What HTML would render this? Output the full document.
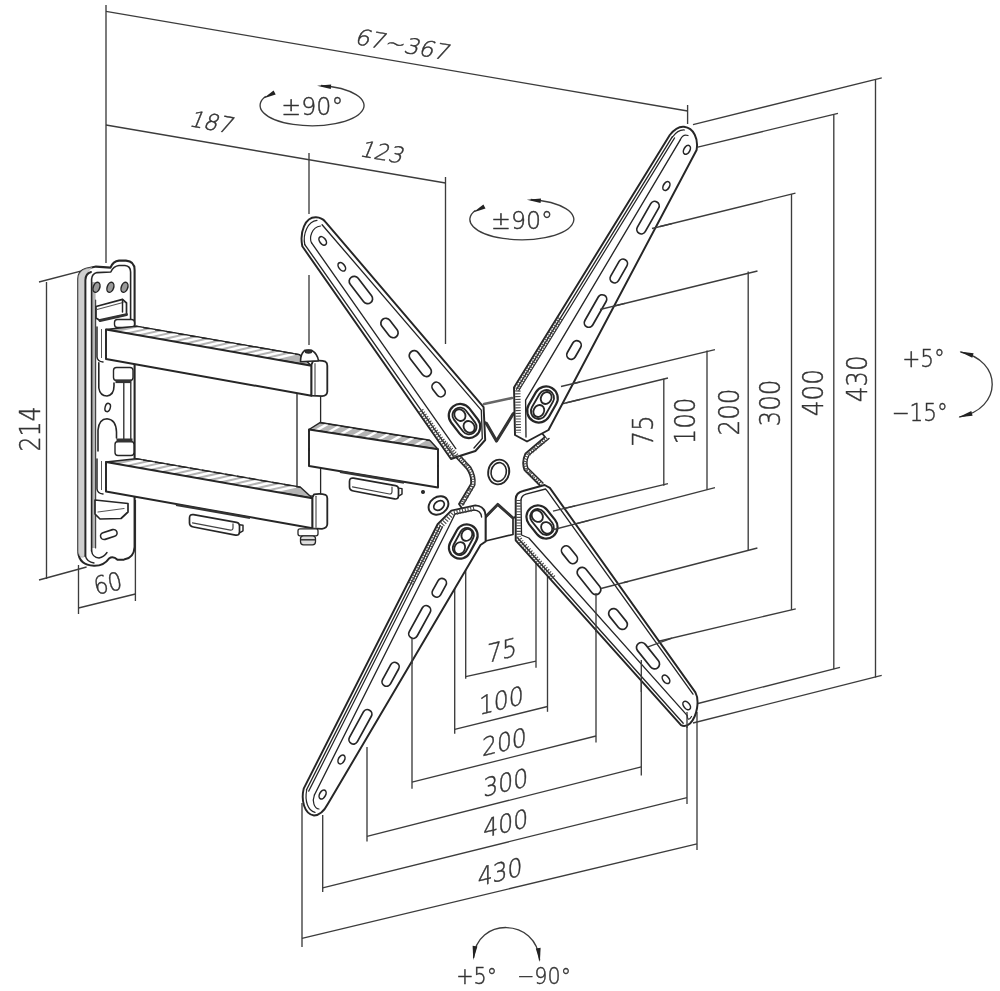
<!DOCTYPE html>
<html><head><meta charset="utf-8"><title>TV wall mount dimensions</title>
<style>
html,body{margin:0;padding:0;background:#fff;}
svg{display:block;filter:blur(0.45px);}
text{font-family:"DejaVu Sans","Liberation Sans",sans-serif;font-weight:200;}
</style></head><body>
<svg width="1000" height="991" viewBox="0 0 1000 991">
<rect width="1000" height="991" fill="#fff"/>
<g id="dims">
<line x1="106.0" y1="5.0" x2="106.0" y2="263.0" stroke="#3c3c3c" stroke-width="1.35" />
<line x1="106.0" y1="11.4" x2="687.6" y2="111.0" stroke="#3c3c3c" stroke-width="1.35" />
<line x1="106.0" y1="125.0" x2="445.5" y2="183.0" stroke="#3c3c3c" stroke-width="1.35" />
<line x1="309.0" y1="153.0" x2="309.0" y2="214.0" stroke="#3c3c3c" stroke-width="1.35" />
<line x1="309.0" y1="275.0" x2="309.0" y2="345.0" stroke="#3c3c3c" stroke-width="1.35" />
<line x1="445.5" y1="177.0" x2="445.5" y2="344.0" stroke="#3c3c3c" stroke-width="1.35" />
<line x1="687.6" y1="105.0" x2="687.6" y2="124.0" stroke="#3c3c3c" stroke-width="1.35" />
<line x1="46.5" y1="282.0" x2="46.5" y2="579.0" stroke="#3c3c3c" stroke-width="1.35" />
<line x1="39.0" y1="282.0" x2="98.0" y2="266.7" stroke="#3c3c3c" stroke-width="1.35" />
<line x1="39.0" y1="580.0" x2="86.6" y2="567.0" stroke="#3c3c3c" stroke-width="1.35" />
<line x1="78.5" y1="565.0" x2="78.5" y2="614.0" stroke="#3c3c3c" stroke-width="1.35" />
<line x1="135.4" y1="500.0" x2="135.4" y2="601.0" stroke="#3c3c3c" stroke-width="1.35" />
<line x1="78.5" y1="608.0" x2="135.4" y2="594.0" stroke="#3c3c3c" stroke-width="1.35" />
<line x1="663.8" y1="378.7" x2="663.8" y2="485.7" stroke="#3c3c3c" stroke-width="1.35" />
<line x1="707.0" y1="350.5" x2="707.0" y2="489.7" stroke="#3c3c3c" stroke-width="1.35" />
<line x1="748.2" y1="271.5" x2="748.2" y2="550.0" stroke="#3c3c3c" stroke-width="1.35" />
<line x1="791.5" y1="194.0" x2="791.5" y2="610.0" stroke="#3c3c3c" stroke-width="1.35" />
<line x1="833.8" y1="115.0" x2="833.8" y2="669.3" stroke="#3c3c3c" stroke-width="1.35" />
<line x1="875.5" y1="79.4" x2="875.5" y2="677.4" stroke="#3c3c3c" stroke-width="1.35" />
<line x1="693.0" y1="124.6" x2="881.8" y2="77.8" stroke="#3c3c3c" stroke-width="1.35" />
<line x1="697.8" y1="147.2" x2="838.0" y2="113.3" stroke="#3c3c3c" stroke-width="1.35" />
<line x1="660.0" y1="226.5" x2="795.5" y2="193.2" stroke="#3c3c3c" stroke-width="1.35" />
<line x1="600.0" y1="309.5" x2="757.5" y2="271.0" stroke="#3c3c3c" stroke-width="1.35" />
<line x1="536.0" y1="392.5" x2="715.0" y2="349.6" stroke="#3c3c3c" stroke-width="1.35" />
<line x1="545.0" y1="408.0" x2="668.0" y2="378.0" stroke="#3c3c3c" stroke-width="1.35" />
<line x1="560.0" y1="509.5" x2="668.0" y2="483.7" stroke="#3c3c3c" stroke-width="1.35" />
<line x1="552.0" y1="530.0" x2="715.0" y2="487.7" stroke="#3c3c3c" stroke-width="1.35" />
<line x1="624.0" y1="582.5" x2="757.4" y2="548.0" stroke="#3c3c3c" stroke-width="1.35" />
<line x1="647.0" y1="644.0" x2="795.8" y2="608.8" stroke="#3c3c3c" stroke-width="1.35" />
<line x1="698.0" y1="703.5" x2="840.0" y2="667.3" stroke="#3c3c3c" stroke-width="1.35" />
<line x1="693.0" y1="723.0" x2="881.7" y2="675.4" stroke="#3c3c3c" stroke-width="1.35" />
<line x1="302.0" y1="803.0" x2="302.0" y2="947.0" stroke="#3c3c3c" stroke-width="1.35" />
<line x1="697.0" y1="712.0" x2="697.0" y2="850.0" stroke="#3c3c3c" stroke-width="1.35" />
<line x1="302.0" y1="938.4" x2="697.0" y2="843.8" stroke="#3c3c3c" stroke-width="1.35" />
<line x1="322.7" y1="815.0" x2="322.7" y2="892.0" stroke="#3c3c3c" stroke-width="1.35" />
<line x1="687.0" y1="720.0" x2="687.0" y2="804.0" stroke="#3c3c3c" stroke-width="1.35" />
<line x1="322.7" y1="887.8" x2="687.0" y2="797.6" stroke="#3c3c3c" stroke-width="1.35" />
<line x1="367.0" y1="747.0" x2="367.0" y2="841.6" stroke="#3c3c3c" stroke-width="1.35" />
<line x1="641.3" y1="660.0" x2="641.3" y2="775.6" stroke="#3c3c3c" stroke-width="1.35" />
<line x1="367.0" y1="836.3" x2="641.3" y2="766.8" stroke="#3c3c3c" stroke-width="1.35" />
<line x1="412.0" y1="639.0" x2="412.0" y2="788.8" stroke="#3c3c3c" stroke-width="1.35" />
<line x1="596.0" y1="593.0" x2="596.0" y2="742.6" stroke="#3c3c3c" stroke-width="1.35" />
<line x1="412.0" y1="782.2" x2="596.0" y2="736.0" stroke="#3c3c3c" stroke-width="1.35" />
<line x1="454.7" y1="560.0" x2="454.7" y2="733.8" stroke="#3c3c3c" stroke-width="1.35" />
<line x1="547.5" y1="545.0" x2="547.5" y2="711.8" stroke="#3c3c3c" stroke-width="1.35" />
<line x1="454.7" y1="729.4" x2="547.5" y2="706.5" stroke="#3c3c3c" stroke-width="1.35" />
<line x1="465.7" y1="545.0" x2="465.7" y2="678.8" stroke="#3c3c3c" stroke-width="1.35" />
<line x1="536.0" y1="535.0" x2="536.0" y2="667.8" stroke="#3c3c3c" stroke-width="1.35" />
<line x1="465.7" y1="676.6" x2="536.0" y2="661.2" stroke="#3c3c3c" stroke-width="1.35" />
</g>
<path d="M321.0,85.5 A52,20.3 0 1 1 265.7,96.3" stroke="#3c3c3c" stroke-width="1.35" fill="none"/>
<path d="M317.0,85.8 L331.2,84.5 L330.8,89.1 Z" fill="#222"/>
<path d="M263.2,98.5 L273.6,90.4 L275.7,94.4 Z" fill="#222"/>
<path d="M530.8,199.5 A52,20.3 0 1 1 475.5,210.3" stroke="#3c3c3c" stroke-width="1.35" fill="none"/>
<path d="M526.8,199.8 L541.0,198.5 L540.6,203.1 Z" fill="#222"/>
<path d="M473.0,212.5 L483.4,204.4 L485.5,208.4 Z" fill="#222"/>
<path d="M960.4,352 C1003,360 1003,409 959.3,417" stroke="#3c3c3c" stroke-width="1.35" fill="none"/>
<path d="M959.5,351.6 L973.6,353.2 L972.3,357.8 Z" fill="#222"/>
<path d="M958.5,417.3 L971.3,411.1 L972.6,415.7 Z" fill="#222"/>
<path d="M473.6,958 C476,917 537,917 539.6,960.4" stroke="#3c3c3c" stroke-width="1.35" fill="none"/>
<path d="M473.3,960.0 L472.6,945.8 L477.4,946.4 Z" fill="#222"/>
<path d="M539.9,962.0 L535.8,948.4 L540.6,947.8 Z" fill="#222"/>
<g id="labels">
<text transform="translate(403.5 44.5) rotate(10) skewX(-12) scale(1.07 1)" x="0" y="8.0" font-size="22" text-anchor="middle" fill="#333" stroke="#333" stroke-width="0.45">67~367</text>
<text transform="translate(212.5 122.0) rotate(10) skewX(-12) scale(1.0 1)" x="0" y="8.2" font-size="22.5" text-anchor="middle" fill="#333" stroke="#333" stroke-width="0.45">187</text>
<text transform="translate(383.0 152.0) rotate(10) skewX(-12) scale(1.0 1)" x="0" y="8.2" font-size="22.5" text-anchor="middle" fill="#333" stroke="#333" stroke-width="0.45">123</text>
<text transform="translate(30.0 429.0) rotate(-90) scale(0.83 1)" x="0" y="10.4" font-size="28.5" text-anchor="middle" fill="#333" stroke="#333" stroke-width="0.45">214</text>
<text transform="translate(107.8 583.0) rotate(-13) scale(0.9 1)" x="0" y="9.1" font-size="25" text-anchor="middle" fill="#333" stroke="#333" stroke-width="0.45">60</text>
<text transform="translate(312.3 106.0) rotate(0) scale(0.95 1)" x="0" y="9.1" font-size="25" text-anchor="middle" fill="#333" stroke="#333" stroke-width="0.45">±90°</text>
<text transform="translate(522.0 220.0) rotate(0) scale(0.95 1)" x="0" y="9.1" font-size="25" text-anchor="middle" fill="#333" stroke="#333" stroke-width="0.45">±90°</text>
<text transform="translate(642.4 431.0) rotate(-90) scale(0.865 1)" x="0" y="10.4" font-size="28.5" text-anchor="middle" fill="#333" stroke="#333" stroke-width="0.45">75</text>
<text transform="translate(684.8 421.0) rotate(-90) scale(0.865 1)" x="0" y="10.4" font-size="28.5" text-anchor="middle" fill="#333" stroke="#333" stroke-width="0.45">100</text>
<text transform="translate(728.4 412.0) rotate(-90) scale(0.865 1)" x="0" y="10.4" font-size="28.5" text-anchor="middle" fill="#333" stroke="#333" stroke-width="0.45">200</text>
<text transform="translate(769.5 403.0) rotate(-90) scale(0.865 1)" x="0" y="10.4" font-size="28.5" text-anchor="middle" fill="#333" stroke="#333" stroke-width="0.45">300</text>
<text transform="translate(812.3 392.7) rotate(-90) scale(0.865 1)" x="0" y="10.4" font-size="28.5" text-anchor="middle" fill="#333" stroke="#333" stroke-width="0.45">400</text>
<text transform="translate(856.3 378.8) rotate(-90) scale(0.865 1)" x="0" y="10.4" font-size="28.5" text-anchor="middle" fill="#333" stroke="#333" stroke-width="0.45">430</text>
<text transform="translate(502.0 650.0) skewY(-14) scale(0.92 1)" x="0" y="9.3" font-size="25.5" text-anchor="middle" fill="#333" stroke="#333" stroke-width="0.45">75</text>
<text transform="translate(501.3 700.0) skewY(-14) scale(0.92 1)" x="0" y="9.3" font-size="25.5" text-anchor="middle" fill="#333" stroke="#333" stroke-width="0.45">100</text>
<text transform="translate(504.4 741.7) skewY(-14) scale(0.92 1)" x="0" y="9.3" font-size="25.5" text-anchor="middle" fill="#333" stroke="#333" stroke-width="0.45">200</text>
<text transform="translate(505.7 782.2) skewY(-14) scale(0.92 1)" x="0" y="9.3" font-size="25.5" text-anchor="middle" fill="#333" stroke="#333" stroke-width="0.45">300</text>
<text transform="translate(505.7 823.0) skewY(-14) scale(0.92 1)" x="0" y="9.3" font-size="25.5" text-anchor="middle" fill="#333" stroke="#333" stroke-width="0.45">400</text>
<text transform="translate(500.0 871.5) skewY(-14) scale(0.92 1)" x="0" y="9.3" font-size="25.5" text-anchor="middle" fill="#333" stroke="#333" stroke-width="0.45">430</text>
<text transform="translate(923.5 358.6) rotate(0) scale(0.9 1)" x="0" y="8.8" font-size="24" text-anchor="middle" fill="#333" stroke="#333" stroke-width="0.45">+5°</text>
<text transform="translate(919.7 411.8) rotate(0) scale(0.9 1)" x="0" y="8.8" font-size="24" text-anchor="middle" fill="#333" stroke="#333" stroke-width="0.45">−15°</text>
<text transform="translate(476.7 975.8) rotate(0) scale(0.9 1)" x="0" y="8.4" font-size="23" text-anchor="middle" fill="#333" stroke="#333" stroke-width="0.45">+5°</text>
<text transform="translate(544.0 975.8) rotate(0) scale(0.9 1)" x="0" y="8.4" font-size="23" text-anchor="middle" fill="#333" stroke="#333" stroke-width="0.45">−90°</text>
</g>
<g id="mount">
<path d="M78.2,552 L78.2,279 Q78.4,271 86,268.8 L96,266.6 L110.5,267.6 Q113,261.2 119,260.6 L126,260.6 Q134.6,261.2 134.6,270 L134.6,547 Q134,558 124,559.6 L117.5,559.8 Q113,555.5 109,558.5 Q104,566 94,565.8 Q79,565 78.2,552 Z" stroke="#262626" stroke-width="2.074" fill="#fff" stroke-linejoin="round" stroke-linecap="round" />
<path d="M78.2,552 L78.2,279 Q78.4,271 86,268.8 L92,267.6 Q85.8,272 85.4,280 L85.4,556 Q80,560 78.2,552 Z" stroke="#999" stroke-width="0.61" fill="#cfcfcf" stroke-linejoin="round" stroke-linecap="round" />
<path d="M85.4,556 L85.4,280 Q85.6,273.5 91,272" stroke="#262626" stroke-width="1.952" fill="none" stroke-linejoin="round" stroke-linecap="round" />
<rect x="91.6" y="282" width="4" height="266" fill="#b5b5b5"/>
<path d="M85.4,556 Q87,562 94,563" stroke="#262626" stroke-width="1.342" fill="none" stroke-linejoin="round" stroke-linecap="round" />
<path d="M91.6,551 L91.6,279 Q92,274 97,272.6 L110.8,272 Q113.5,266 119,265.5 L125,265.5 Q130.6,266 130.6,272 L130.6,322" stroke="#262626" stroke-width="1.586" fill="none" stroke-linejoin="round" stroke-linecap="round" />
<path d="M91.6,551 Q92.5,557.5 99,558 Q104,557 107,552.5" stroke="#262626" stroke-width="1.464" fill="none" stroke-linejoin="round" stroke-linecap="round" />
<path d="M95.6,300 L95.6,548" stroke="#444" stroke-width="1.22" fill="none" stroke-linejoin="round" stroke-linecap="round" />
<ellipse cx="96.5" cy="287.3" rx="3.2" ry="5.2" transform="rotate(20.0 96.5 287.3)" stroke="#262626" stroke-width="1.464" fill="#9a9a9a"/>
<ellipse cx="110.4" cy="287.3" rx="3.2" ry="5.2" transform="rotate(20.0 110.4 287.3)" stroke="#262626" stroke-width="1.464" fill="#9a9a9a"/>
<ellipse cx="124.5" cy="287.3" rx="3.2" ry="5.2" transform="rotate(20.0 124.5 287.3)" stroke="#262626" stroke-width="1.464" fill="#9a9a9a"/>
<path d="M96.0,306.5 L122.5,299.4 L126.5,303.0 L126.5,314.6 L100.0,320.5 L96.0,318.0 Z" stroke="#262626" stroke-width="1.708" fill="#fff" stroke-linejoin="round" stroke-linecap="round" />
<path d="M97,309.5 L123,302.5" stroke="#555" stroke-width="1.22" fill="none" stroke-linejoin="round" stroke-linecap="round" />
<path d="M122.5,299.4 L122.5,312" stroke="#262626" stroke-width="1.464" fill="none" stroke-linejoin="round" stroke-linecap="round" />
<path d="M100,320.5 L126.5,314.6" stroke="#333" stroke-width="2.928" fill="none" stroke-linejoin="round" stroke-linecap="round" />
<path d="M95.0,500.0 L128.0,503.5 L128.0,512.0 L121.0,518.5 L100.0,519.0 L95.0,514.0 Z" stroke="#262626" stroke-width="1.708" fill="#fff" stroke-linejoin="round" stroke-linecap="round" />
<path d="M98,512 L124,508.5" stroke="#555" stroke-width="1.22" fill="none" stroke-linejoin="round" stroke-linecap="round" />
<rect x="100.3" y="531.0" width="17.0" height="7.0" rx="3.5" transform="rotate(-18.0 108.8 534.5)" stroke="#262626" stroke-width="1.586" fill="#fff"/>
<path d="M98.8,362.8 L98.8,388 Q100,396 107,396 Q114,395 114,386 L114,383" stroke="#262626" stroke-width="1.586" fill="none" stroke-linejoin="round" stroke-linecap="round" />
<ellipse cx="107.7" cy="407.5" rx="2.6" ry="4.2" transform="rotate(15.0 107.7 407.5)" stroke="#262626" stroke-width="1.464" fill="none"/>
<path d="M98,451 L98,430 Q99,419 107,418.8 Q116,419.5 116.5,432 L116.5,438" stroke="#262626" stroke-width="1.586" fill="none" stroke-linejoin="round" stroke-linecap="round" />
<line x1="123.8" y1="383.0" x2="123.8" y2="439.0" stroke="#262626" stroke-width="1.3" />
<line x1="130.8" y1="383.0" x2="130.8" y2="439.0" stroke="#262626" stroke-width="1.3" />
<rect x="113.5" y="367.5" width="19.5" height="13" rx="3" fill="#fff" stroke="#262626" stroke-width="1.4"/>
<rect x="115.5" y="379.5" width="16" height="3.6" fill="#333"/>
<rect x="115" y="441.5" width="19" height="14" rx="3" fill="#fff" stroke="#262626" stroke-width="1.4"/>
<rect x="116.5" y="438.5" width="16" height="3.8" fill="#333"/>
<rect x="114.5" y="319.5" width="20" height="8" rx="3" fill="#fff" stroke="#262626" stroke-width="1.4"/>
<path d="M97,327 L97,357 Q97.5,361.5 103,362" stroke="#262626" stroke-width="1.464" fill="none" stroke-linejoin="round" stroke-linecap="round" />
<line x1="101.5" y1="329.0" x2="101.5" y2="358.0" stroke="#555" stroke-width="1.0" />
<path d="M97,459 L97,489 Q97.5,493.5 103,494" stroke="#262626" stroke-width="1.464" fill="none" stroke-linejoin="round" stroke-linecap="round" />
<line x1="101.5" y1="461.0" x2="101.5" y2="490.0" stroke="#555" stroke-width="1.0" />
<rect x="297" y="392" width="23.6" height="104" fill="#fff" stroke="#262626" stroke-width="1.3"/>
<path d="M106.0,329.5 L136.0,326.2 L299.5,354.6 L311.5,365.7 Z" stroke="#262626" stroke-width="1.464" fill="#b4b4b4" stroke-linejoin="round" stroke-linecap="round" />
<line x1="143.1" y1="327.4" x2="116.1" y2="333.6" stroke="#fff" stroke-width="2.6" />
<line x1="154.8" y1="329.4" x2="127.8" y2="335.6" stroke="#fff" stroke-width="2.6" />
<line x1="166.4" y1="331.4" x2="139.4" y2="337.6" stroke="#fff" stroke-width="2.6" />
<line x1="178.1" y1="333.5" x2="151.1" y2="339.6" stroke="#fff" stroke-width="2.6" />
<line x1="189.8" y1="335.5" x2="162.8" y2="341.7" stroke="#fff" stroke-width="2.6" />
<line x1="201.5" y1="337.5" x2="174.5" y2="343.7" stroke="#fff" stroke-width="2.6" />
<line x1="213.2" y1="339.6" x2="186.2" y2="345.7" stroke="#fff" stroke-width="2.6" />
<line x1="224.8" y1="341.6" x2="197.8" y2="347.8" stroke="#fff" stroke-width="2.6" />
<line x1="236.5" y1="343.6" x2="209.5" y2="349.8" stroke="#fff" stroke-width="2.6" />
<line x1="248.2" y1="345.6" x2="221.2" y2="351.8" stroke="#fff" stroke-width="2.6" />
<line x1="259.9" y1="347.7" x2="232.9" y2="353.8" stroke="#fff" stroke-width="2.6" />
<line x1="271.6" y1="349.7" x2="244.6" y2="355.9" stroke="#fff" stroke-width="2.6" />
<line x1="283.2" y1="351.7" x2="256.2" y2="357.9" stroke="#fff" stroke-width="2.6" />
<line x1="294.9" y1="353.7" x2="267.9" y2="359.9" stroke="#fff" stroke-width="2.6" />
<line x1="136.0" y1="326.2" x2="299.5" y2="354.6" stroke="#262626" stroke-width="1.3" />
<path d="M106.0,329.5 L311.5,365.7 L311.5,395.7 L106.0,359.0 Z" stroke="#262626" stroke-width="1.952" fill="#fff" stroke-linejoin="round" stroke-linecap="round" />
<path d="M311.5,364.7 L313,361.2 Q321,359.7 325.5,361.7 Q327.3,362.7 327.3,365.7 L327.3,391.7 Q327,395.7 322,396.2 L311.5,395.7 Z" stroke="#262626" stroke-width="1.83" fill="#fff" stroke-linejoin="round" stroke-linecap="round" />
<path d="M315,363.7 L315,394.7" stroke="#555" stroke-width="1.22" fill="none" stroke-linejoin="round" stroke-linecap="round" />
<path d="M300.5,361.7 Q300.5,353.7 305,350.2 L311.5,350.2 Q317.5,353.7 318.5,360.7 Z" stroke="#262626" stroke-width="1.586" fill="#fff" stroke-linejoin="round" stroke-linecap="round" />
<ellipse cx="308.5" cy="351.5" rx="3.2" ry="1.6" transform="rotate(0.0 308.5 351.5)" stroke="#262626" stroke-width="1.22" fill="#333"/>
<path d="M106.0,462.0 L136.0,458.7 L300.5,487.2 L312.5,498.3 Z" stroke="#262626" stroke-width="1.464" fill="#b4b4b4" stroke-linejoin="round" stroke-linecap="round" />
<line x1="143.1" y1="459.9" x2="116.1" y2="466.1" stroke="#fff" stroke-width="2.6" />
<line x1="154.9" y1="461.9" x2="127.9" y2="468.1" stroke="#fff" stroke-width="2.6" />
<line x1="166.6" y1="464.0" x2="139.6" y2="470.1" stroke="#fff" stroke-width="2.6" />
<line x1="178.4" y1="466.0" x2="151.4" y2="472.2" stroke="#fff" stroke-width="2.6" />
<line x1="190.1" y1="468.1" x2="163.1" y2="474.2" stroke="#fff" stroke-width="2.6" />
<line x1="201.9" y1="470.1" x2="174.9" y2="476.3" stroke="#fff" stroke-width="2.6" />
<line x1="213.6" y1="472.1" x2="186.6" y2="478.3" stroke="#fff" stroke-width="2.6" />
<line x1="225.4" y1="474.2" x2="198.4" y2="480.3" stroke="#fff" stroke-width="2.6" />
<line x1="237.1" y1="476.2" x2="210.1" y2="482.4" stroke="#fff" stroke-width="2.6" />
<line x1="248.9" y1="478.2" x2="221.9" y2="484.4" stroke="#fff" stroke-width="2.6" />
<line x1="260.6" y1="480.3" x2="233.6" y2="486.5" stroke="#fff" stroke-width="2.6" />
<line x1="272.4" y1="482.3" x2="245.4" y2="488.5" stroke="#fff" stroke-width="2.6" />
<line x1="284.1" y1="484.4" x2="257.1" y2="490.5" stroke="#fff" stroke-width="2.6" />
<line x1="295.9" y1="486.4" x2="268.9" y2="492.6" stroke="#fff" stroke-width="2.6" />
<line x1="136.0" y1="458.7" x2="300.5" y2="487.2" stroke="#262626" stroke-width="1.3" />
<path d="M106.0,462.0 L312.5,498.3 L312.5,528.3 L106.0,491.5 Z" stroke="#262626" stroke-width="1.952" fill="#fff" stroke-linejoin="round" stroke-linecap="round" />
<path d="M312.5,497.3 L314,494.3 Q321,493.3 325.5,494.8 Q327.3,495.8 327.3,498.3 L327.3,524.3 Q327,528.3 322,528.8 L312.5,528.3 Z" stroke="#262626" stroke-width="1.83" fill="#fff" stroke-linejoin="round" stroke-linecap="round" />
<path d="M316,496.3 L316,527.3" stroke="#555" stroke-width="1.22" fill="none" stroke-linejoin="round" stroke-linecap="round" />
<rect x="298" y="528.8" width="20" height="7" rx="2" fill="#fff" stroke="#262626" stroke-width="1.3"/>
<rect x="300.5" y="535.8" width="15" height="9" rx="3" fill="#ddd" stroke="#262626" stroke-width="1.3"/>
<line x1="301.0" y1="539.8" x2="315.0" y2="539.8" stroke="#333" stroke-width="1.5" />
<path d="M193.5,514.7 L236.5,522.3 Q239.5,522.8 239.5,525.8 L239.5,531.8 Q239.5,535.8 235.5,535.1 L193.5,527.0 Q189.5,526.3 189.5,523.0 L189.5,518.0 Q189.5,514.0 193.5,514.7 Z" stroke="#262626" stroke-width="1.708" fill="#fff" stroke-linejoin="round" stroke-linecap="round" />
<path d="M192.5,522.8 L230.5,530.2 Q233.0,530.3 233.0,527.8 L233.0,523.8" stroke="#444" stroke-width="1.22" fill="none" stroke-linejoin="round" stroke-linecap="round" />
<path d="M239.5,524.8 L243.0,525.3 L243.0,530.8 L239.5,532.8" stroke="#262626" stroke-width="1.464" fill="none" stroke-linejoin="round" stroke-linecap="round" />
<line x1="176.0" y1="504.8" x2="250.0" y2="517.8" stroke="#333" stroke-width="2.2" />
<path d="M309.0,429.5 L320.0,422.6 L430.0,440.6 L438.0,449.3 Z" stroke="#262626" stroke-width="1.464" fill="#b4b4b4" stroke-linejoin="round" stroke-linecap="round" />
<line x1="327.9" y1="423.9" x2="311.9" y2="432.9" stroke="#fff" stroke-width="2.4" />
<line x1="340.1" y1="425.8" x2="324.1" y2="434.8" stroke="#fff" stroke-width="2.4" />
<line x1="352.3" y1="427.8" x2="336.3" y2="436.8" stroke="#fff" stroke-width="2.4" />
<line x1="364.6" y1="429.7" x2="348.6" y2="438.7" stroke="#fff" stroke-width="2.4" />
<line x1="376.8" y1="431.7" x2="360.8" y2="440.7" stroke="#fff" stroke-width="2.4" />
<line x1="389.0" y1="433.7" x2="373.0" y2="442.7" stroke="#fff" stroke-width="2.4" />
<line x1="401.2" y1="435.6" x2="385.2" y2="444.6" stroke="#fff" stroke-width="2.4" />
<line x1="413.4" y1="437.6" x2="397.4" y2="446.6" stroke="#fff" stroke-width="2.4" />
<line x1="425.7" y1="439.5" x2="409.7" y2="448.5" stroke="#fff" stroke-width="2.4" />
<line x1="320.0" y1="422.6" x2="430.0" y2="440.2" stroke="#262626" stroke-width="1.5" />
<path d="M309.0,429.5 L438.0,449.3 L438.0,487.5 L309.0,466.0 Z" stroke="#262626" stroke-width="1.952" fill="#fff" stroke-linejoin="round" stroke-linecap="round" />
<line x1="340.0" y1="471.8" x2="404.0" y2="482.6" stroke="#333" stroke-width="2.4" />
<path d="M353.5,478.2 L395.5,485.6 Q398.5,486.1 398.5,489.1 L398.5,495.6 Q398.5,499.6 394.5,498.9 L353.5,491.0 Q349.5,490.3 349.5,487.0 L349.5,481.5 Q349.5,477.5 353.5,478.2 Z" stroke="#262626" stroke-width="1.708" fill="#fff" stroke-linejoin="round" stroke-linecap="round" />
<path d="M352.5,486.8 L389.5,494.0 Q392.0,494.1 392.0,491.6 L392.0,487.1" stroke="#444" stroke-width="1.22" fill="none" stroke-linejoin="round" stroke-linecap="round" />
<path d="M398.5,488.1 L402.0,488.6 L402.0,494.1 L398.5,496.1" stroke="#262626" stroke-width="1.464" fill="none" stroke-linejoin="round" stroke-linecap="round" />
<ellipse cx="423.0" cy="492.0" rx="1.4" ry="1.4" transform="rotate(0.0 423.0 492.0)" stroke="#262626" stroke-width="1.22" fill="#333"/>
</g>
<g id="xbracket">
<path d="M484,404 L512,398" stroke="#666" stroke-width="2.684" fill="none" stroke-linejoin="round" stroke-linecap="round" />
<path d="M485.5,517.0 L485.5,541.0 L513.0,534.5 L513.0,518.0 L497.7,504.4 Z" stroke="#262626" stroke-width="1.708" fill="#fff" stroke-linejoin="round" stroke-linecap="round" />
<path d="M440,440 L467,469 Q472,476 471,484 L459,504 L470,520 L485.5,517 L497.7,504.4 L513,518 L530,510 L540,485.5 L547,490 L540,485.5 L524.5,470 Q521.5,462 525.3,453.8 L545,437 L520,405 L513,414 L496.5,441 L486.3,423.3 L470,410 Z" stroke="#262626" stroke-width="1.83" fill="#fff" stroke-linejoin="round" stroke-linecap="round" />
<path d="M443,437.5 L470.5,467 Q476,476 474.8,485 L463,505" stroke="#262626" stroke-width="1.464" fill="none" stroke-linejoin="round" stroke-linecap="round" />
<line x1="446.0" y1="444.0" x2="449.6" y2="441.4" stroke="#444" stroke-width="0.9" />
<line x1="448.6" y1="447.1" x2="452.2" y2="444.5" stroke="#444" stroke-width="0.9" />
<line x1="451.2" y1="450.2" x2="454.9" y2="447.6" stroke="#444" stroke-width="0.9" />
<line x1="453.9" y1="453.4" x2="457.5" y2="450.8" stroke="#444" stroke-width="0.9" />
<line x1="456.5" y1="456.5" x2="460.1" y2="453.9" stroke="#444" stroke-width="0.9" />
<line x1="459.1" y1="459.6" x2="462.7" y2="457.0" stroke="#444" stroke-width="0.9" />
<line x1="461.8" y1="462.8" x2="465.4" y2="460.1" stroke="#444" stroke-width="0.9" />
<line x1="464.4" y1="465.9" x2="468.0" y2="463.3" stroke="#444" stroke-width="0.9" />
<line x1="467.0" y1="469.0" x2="470.6" y2="466.4" stroke="#444" stroke-width="0.9" />
<line x1="470.5" y1="486.0" x2="474.5" y2="487.0" stroke="#444" stroke-width="0.9" />
<line x1="468.5" y1="489.4" x2="472.5" y2="490.4" stroke="#444" stroke-width="0.9" />
<line x1="466.5" y1="492.8" x2="470.5" y2="493.8" stroke="#444" stroke-width="0.9" />
<line x1="464.5" y1="496.2" x2="468.5" y2="497.2" stroke="#444" stroke-width="0.9" />
<line x1="462.5" y1="499.6" x2="466.5" y2="500.6" stroke="#444" stroke-width="0.9" />
<line x1="460.5" y1="503.0" x2="464.5" y2="504.0" stroke="#444" stroke-width="0.9" />
<path d="M549,438.5 L529,455 Q525.5,462 527.8,468 L543,483" stroke="#262626" stroke-width="1.464" fill="none" stroke-linejoin="round" stroke-linecap="round" />
<line x1="541.5" y1="440.5" x2="544.7" y2="443.1" stroke="#444" stroke-width="0.9" />
<line x1="538.7" y1="442.9" x2="541.9" y2="445.5" stroke="#444" stroke-width="0.9" />
<line x1="535.9" y1="445.3" x2="539.1" y2="447.9" stroke="#444" stroke-width="0.9" />
<line x1="533.1" y1="447.7" x2="536.3" y2="450.3" stroke="#444" stroke-width="0.9" />
<line x1="530.3" y1="450.1" x2="533.5" y2="452.7" stroke="#444" stroke-width="0.9" />
<line x1="527.5" y1="452.5" x2="530.7" y2="455.1" stroke="#444" stroke-width="0.9" />
<line x1="525.0" y1="471.0" x2="528.4" y2="468.6" stroke="#444" stroke-width="0.9" />
<line x1="528.2" y1="474.2" x2="531.6" y2="471.9" stroke="#444" stroke-width="0.9" />
<line x1="531.5" y1="477.5" x2="534.9" y2="475.1" stroke="#444" stroke-width="0.9" />
<line x1="534.8" y1="480.8" x2="538.1" y2="478.4" stroke="#444" stroke-width="0.9" />
<line x1="538.0" y1="484.0" x2="541.4" y2="481.6" stroke="#444" stroke-width="0.9" />
<path d="M486.3,423.3 L496.5,441 L513,414" stroke="#333" stroke-width="3.172" fill="none" stroke-linejoin="round" stroke-linecap="round" />
<path d="M485.5,517 L497.7,504.4 L513,518" stroke="#333" stroke-width="2.928" fill="none" stroke-linejoin="round" stroke-linecap="round" />
<ellipse cx="498.7" cy="472.0" rx="10.5" ry="12.5" transform="rotate(12.0 498.7 472.0)" stroke="#262626" stroke-width="1.83" fill="#fff"/>
<ellipse cx="498.7" cy="472.0" rx="7.6" ry="9.4" transform="rotate(12.0 498.7 472.0)" stroke="#262626" stroke-width="1.586" fill="#fff"/>
<path d="M302.3,246.3 C299.5,232 305,217 316,217.3 Q322,217.6 325.4,221.8 L483.6,407.2 L485.2,440 L475.4,451 L458,456.5 L451,459 Z" stroke="#262626" stroke-width="1.952" fill="#fff" stroke-linejoin="round" stroke-linecap="round" />
<path d="M304.8,244.6 L453.5,456.3" stroke="#262626" stroke-width="1.342" fill="none" stroke-linejoin="round" stroke-linecap="round" />
<path d="M304.8,244.6 C302.5,234 308,221 317,220.4" stroke="#262626" stroke-width="1.22" fill="none" stroke-linejoin="round" stroke-linecap="round" />
<path d="M311.6,242.9 L455.8,448.6" stroke="#262626" stroke-width="1.342" fill="none" stroke-linejoin="round" stroke-linecap="round" />
<path d="M311.6,242.9 C309,238 311.5,227 320.5,226" stroke="#262626" stroke-width="1.22" fill="none" stroke-linejoin="round" stroke-linecap="round" />
<path d="M322.1,224.7 L481.3,410.1 L482.3,438.5 L474,448" stroke="#262626" stroke-width="1.342" fill="none" stroke-linejoin="round" stroke-linecap="round" />
<ellipse cx="322.7" cy="240.9" rx="4.8" ry="3.0" transform="rotate(52.4 322.7 240.9)" stroke="#262626" stroke-width="1.586" fill="#fff"/>
<ellipse cx="341.8" cy="266.8" rx="4.8" ry="3.0" transform="rotate(52.4 341.8 266.8)" stroke="#262626" stroke-width="1.586" fill="#fff"/>
<rect x="344.9" y="285.0" width="32.0" height="10.0" rx="5.0" transform="rotate(52.4 360.9 290.0)" stroke="#262626" stroke-width="1.708" fill="#fff"/>
<rect x="378.5" y="323.0" width="22.0" height="10.0" rx="5.0" transform="rotate(52.4 389.5 328.0)" stroke="#262626" stroke-width="1.708" fill="#fff"/>
<rect x="405.3" y="358.6" width="30.0" height="10.0" rx="5.0" transform="rotate(52.4 420.3 363.6)" stroke="#262626" stroke-width="1.708" fill="#fff"/>
<rect x="430.6" y="385.0" width="16.0" height="9.0" rx="4.5" transform="rotate(52.4 438.6 389.5)" stroke="#262626" stroke-width="1.708" fill="#fff"/>
<rect x="446.0" y="409.5" width="37.0" height="23.0" rx="11.5" transform="rotate(52.4 464.5 421.0)" stroke="#262626" stroke-width="2.196" fill="#fff"/>
<rect x="449.5" y="413.5" width="30.0" height="15.0" rx="7.5" transform="rotate(52.4 464.5 421.0)" stroke="#262626" stroke-width="1.83" fill="#fff"/>
<ellipse cx="459.9" cy="415.1" rx="6.2" ry="5.2" transform="rotate(52.4 459.9 415.1)" stroke="#262626" stroke-width="1.83" fill="#fff"/>
<ellipse cx="469.1" cy="426.9" rx="6.2" ry="5.2" transform="rotate(52.4 469.1 426.9)" stroke="#262626" stroke-width="1.83" fill="#fff"/>
<path d="M669.8,135 Q677,126 684,126.8 C694,128 698.5,139 696.6,150 L548.5,430 L527,441.5 L515,435 L514,387.6 Z" stroke="#262626" stroke-width="1.952" fill="#fff" stroke-linejoin="round" stroke-linecap="round" />
<path d="M672.4,136.6 L516.6,389.2" stroke="#262626" stroke-width="1.342" fill="none" stroke-linejoin="round" stroke-linecap="round" />
<path d="M674.6,137.9 L518.8,390.5" stroke="#262626" stroke-width="1.22" fill="none" stroke-linejoin="round" stroke-linecap="round" />
<path d="M672.5,137 Q678,129.5 684.5,130" stroke="#262626" stroke-width="1.22" fill="none" stroke-linejoin="round" stroke-linecap="round" />
<path d="M680.4,139.6 L525.6,400.2 L526,437" stroke="#262626" stroke-width="1.342" fill="none" stroke-linejoin="round" stroke-linecap="round" />
<path d="M680.4,139.6 Q683,133.5 688,135.5" stroke="#262626" stroke-width="1.22" fill="none" stroke-linejoin="round" stroke-linecap="round" />
<ellipse cx="686.9" cy="149.8" rx="4.8" ry="3.0" transform="rotate(119.7 686.9 149.8)" stroke="#262626" stroke-width="1.586" fill="#fff"/>
<ellipse cx="666.4" cy="186.0" rx="4.8" ry="3.0" transform="rotate(119.7 666.4 186.0)" stroke="#262626" stroke-width="1.586" fill="#fff"/>
<rect x="630.0" y="213.1" width="36.0" height="9.0" rx="4.5" transform="rotate(119.7 648.0 217.6)" stroke="#262626" stroke-width="1.708" fill="#fff"/>
<rect x="605.8" y="266.5" width="26.0" height="9.0" rx="4.5" transform="rotate(119.7 618.8 271.0)" stroke="#262626" stroke-width="1.708" fill="#fff"/>
<rect x="577.5" y="306.5" width="36.0" height="9.0" rx="4.5" transform="rotate(119.7 595.5 311.0)" stroke="#262626" stroke-width="1.708" fill="#fff"/>
<rect x="564.0" y="345.5" width="20.0" height="9.0" rx="4.5" transform="rotate(119.7 574.0 350.0)" stroke="#262626" stroke-width="1.708" fill="#fff"/>
<rect x="523.5" y="392.8" width="38.0" height="23.5" rx="11.8" transform="rotate(119.7 542.5 404.5)" stroke="#262626" stroke-width="2.196" fill="#fff"/>
<rect x="527.0" y="396.8" width="31.0" height="15.5" rx="7.8" transform="rotate(119.7 542.5 404.5)" stroke="#262626" stroke-width="1.83" fill="#fff"/>
<ellipse cx="546.2" cy="398.0" rx="6.2" ry="5.2" transform="rotate(119.7 546.2 398.0)" stroke="#262626" stroke-width="1.83" fill="#fff"/>
<ellipse cx="538.8" cy="411.0" rx="6.2" ry="5.2" transform="rotate(119.7 538.8 411.0)" stroke="#262626" stroke-width="1.83" fill="#fff"/>
<path d="M303.7,788.6 L437.6,524.3 L451.3,510.6 L475.3,505.4 Q485,506 485.6,515.7 L485.6,541.5 L480.5,545 L327.8,804 Q322,815 314,815.5 C304,814 301,800 303.7,788.6 Z" stroke="#262626" stroke-width="1.952" fill="#fff" stroke-linejoin="round" stroke-linecap="round" />
<path d="M306.4,790.0 L440.3,525.7" stroke="#262626" stroke-width="1.342" fill="none" stroke-linejoin="round" stroke-linecap="round" />
<path d="M308.7,791.1 L442.6,526.8" stroke="#262626" stroke-width="1.22" fill="none" stroke-linejoin="round" stroke-linecap="round" />
<path d="M306.7,790 C304.5,801 308,811 315,812.3" stroke="#262626" stroke-width="1.22" fill="none" stroke-linejoin="round" stroke-linecap="round" />
<path d="M314.4,795.0 L448.3,527.7 L455,514 L474,510 Q481,510.5 481.6,517" stroke="#262626" stroke-width="1.342" fill="none" stroke-linejoin="round" stroke-linecap="round" />
<path d="M314.4,795.0 C312,801 314,808.5 319,809" stroke="#262626" stroke-width="1.22" fill="none" stroke-linejoin="round" stroke-linecap="round" />
<ellipse cx="322.6" cy="794.5" rx="4.8" ry="3.0" transform="rotate(-61.3 322.6 794.5)" stroke="#262626" stroke-width="1.586" fill="#fff"/>
<ellipse cx="341.5" cy="759.4" rx="4.8" ry="3.0" transform="rotate(-61.3 341.5 759.4)" stroke="#262626" stroke-width="1.586" fill="#fff"/>
<rect x="341.4" y="722.3" width="38.0" height="9.0" rx="4.5" transform="rotate(-61.3 360.4 726.8)" stroke="#262626" stroke-width="1.708" fill="#fff"/>
<rect x="377.6" y="669.8" width="26.0" height="9.0" rx="4.5" transform="rotate(-61.3 390.6 674.3)" stroke="#262626" stroke-width="1.708" fill="#fff"/>
<rect x="401.7" y="617.5" width="36.0" height="9.0" rx="4.5" transform="rotate(-61.3 419.7 622.0)" stroke="#262626" stroke-width="1.708" fill="#fff"/>
<rect x="429.3" y="583.3" width="20.0" height="9.0" rx="4.5" transform="rotate(-61.3 439.3 587.8)" stroke="#262626" stroke-width="1.708" fill="#fff"/>
<rect x="445.3" y="530.5" width="36.0" height="22.0" rx="11.0" transform="rotate(-61.3 463.3 541.5)" stroke="#262626" stroke-width="2.196" fill="#fff"/>
<rect x="448.8" y="534.5" width="29.0" height="14.0" rx="7.0" transform="rotate(-61.3 463.3 541.5)" stroke="#262626" stroke-width="1.83" fill="#fff"/>
<ellipse cx="459.7" cy="548.1" rx="6.2" ry="5.2" transform="rotate(-61.3 459.7 548.1)" stroke="#262626" stroke-width="1.83" fill="#fff"/>
<ellipse cx="466.9" cy="534.9" rx="6.2" ry="5.2" transform="rotate(-61.3 466.9 534.9)" stroke="#262626" stroke-width="1.83" fill="#fff"/>
<path d="M515.7,540.3 L515.7,499 Q516,492.5 523,491 L544.6,485 L549.8,487.9 L695.4,692.4 C699.5,700 697.5,716 690,723.5 Q685.5,727.5 681,725.2 Z" stroke="#262626" stroke-width="1.952" fill="#fff" stroke-linejoin="round" stroke-linecap="round" />
<path d="M517.9,538.3 L683.2,723.2" stroke="#262626" stroke-width="1.342" fill="none" stroke-linejoin="round" stroke-linecap="round" />
<path d="M521,500 L521.5,535 L528.8,538.0 L687.1,715.4" stroke="#262626" stroke-width="1.342" fill="none" stroke-linejoin="round" stroke-linecap="round" />
<path d="M687.1,715.4 Q688,722.5 691.5,716.5" stroke="#262626" stroke-width="1.22" fill="none" stroke-linejoin="round" stroke-linecap="round" />
<path d="M521,500 Q521.5,495.5 526,494.2 L545.5,489 L547.4,491.1 L693.0,694.1" stroke="#262626" stroke-width="1.342" fill="none" stroke-linejoin="round" stroke-linecap="round" />
<ellipse cx="686.7" cy="705.5" rx="4.8" ry="3.0" transform="rotate(51.4 686.7 705.5)" stroke="#262626" stroke-width="1.586" fill="#fff"/>
<ellipse cx="666.0" cy="679.3" rx="4.8" ry="3.0" transform="rotate(51.4 666.0 679.3)" stroke="#262626" stroke-width="1.586" fill="#fff"/>
<rect x="632.5" y="650.7" width="31.0" height="10.0" rx="5.0" transform="rotate(51.4 648.0 655.7)" stroke="#262626" stroke-width="1.708" fill="#fff"/>
<rect x="606.0" y="614.0" width="24.0" height="10.0" rx="5.0" transform="rotate(51.4 618.0 619.0)" stroke="#262626" stroke-width="1.708" fill="#fff"/>
<rect x="573.0" y="576.0" width="32.0" height="10.0" rx="5.0" transform="rotate(51.4 589.0 581.0)" stroke="#262626" stroke-width="1.708" fill="#fff"/>
<rect x="559.5" y="550.0" width="20.0" height="9.5" rx="4.8" transform="rotate(51.4 569.5 554.7)" stroke="#262626" stroke-width="1.708" fill="#fff"/>
<rect x="524.0" y="510.5" width="36.0" height="23.0" rx="11.5" transform="rotate(51.4 542.0 522.0)" stroke="#262626" stroke-width="2.196" fill="#fff"/>
<rect x="527.5" y="514.5" width="29.0" height="15.0" rx="7.5" transform="rotate(51.4 542.0 522.0)" stroke="#262626" stroke-width="1.83" fill="#fff"/>
<ellipse cx="537.3" cy="516.1" rx="6.2" ry="5.2" transform="rotate(51.4 537.3 516.1)" stroke="#262626" stroke-width="1.83" fill="#fff"/>
<ellipse cx="546.7" cy="527.9" rx="6.2" ry="5.2" transform="rotate(51.4 546.7 527.9)" stroke="#262626" stroke-width="1.83" fill="#fff"/>
<path d="M560.2,318.4 L518.1,386.6 L517.8,392.0 L518.3,433.0" stroke="#4a4a4a" stroke-width="5.4" fill="none" stroke-dasharray="1.1 1.7" stroke-linejoin="round"/>
<path d="M518.4,500.0 L518.4,537.0 L521.4,541.9 L554.5,578.8" stroke="#4a4a4a" stroke-width="5.0" fill="none" stroke-dasharray="1.1 1.7" stroke-linejoin="round"/>
<path d="M410.8,583.8 L438.9,528.3 L452.5,513.2 L475.0,508.2" stroke="#4a4a4a" stroke-width="5.0" fill="none" stroke-dasharray="1.1 1.7" stroke-linejoin="round"/>
<path d="M420.9,410.4 L453.6,457.2" stroke="#4a4a4a" stroke-width="5.4" fill="none" stroke-dasharray="1.1 1.7" stroke-linejoin="round"/>
<path d="M442.5,440.0 L468.6,468.0 L472.8,477.0 L472.6,485.0 L461.0,504.5" stroke="#444" stroke-width="4.2" fill="none" stroke-dasharray="1.0 1.5" stroke-linejoin="round"/>
<path d="M547.0,438.0 L527.3,454.6 L524.5,462.0 L525.8,469.5 L541.5,484.5" stroke="#444" stroke-width="4.0" fill="none" stroke-dasharray="1.0 1.5" stroke-linejoin="round"/>
<ellipse cx="438.5" cy="505.5" rx="10.5" ry="8.5" transform="rotate(-35.0 438.5 505.5)" stroke="#262626" stroke-width="1.952" fill="#fff"/>
<ellipse cx="439.0" cy="505.5" rx="5.8" ry="4.2" transform="rotate(-35.0 439.0 505.5)" stroke="#262626" stroke-width="1.708" fill="#fff"/>
</g>
<g id="overlay">
<line x1="641.3" y1="660.0" x2="641.3" y2="692.0" stroke="#3c3c3c" stroke-width="1.35" />
<line x1="652.0" y1="228.5" x2="672.0" y2="223.6" stroke="#3c3c3c" stroke-width="1.35" />
<line x1="600.0" y1="309.5" x2="625.0" y2="303.4" stroke="#3c3c3c" stroke-width="1.35" />
<line x1="561.0" y1="386.5" x2="580.0" y2="382.0" stroke="#3c3c3c" stroke-width="1.35" />
<line x1="566.0" y1="402.9" x2="580.0" y2="399.5" stroke="#3c3c3c" stroke-width="1.35" />
<line x1="553.0" y1="511.2" x2="575.0" y2="505.9" stroke="#3c3c3c" stroke-width="1.35" />
<line x1="552.0" y1="530.0" x2="590.0" y2="520.1" stroke="#3c3c3c" stroke-width="1.35" />
<line x1="601.0" y1="588.5" x2="628.0" y2="581.5" stroke="#3c3c3c" stroke-width="1.35" />
<line x1="648.0" y1="646.8" x2="672.0" y2="638.1" stroke="#3c3c3c" stroke-width="1.35" />
<line x1="412.0" y1="638.0" x2="412.0" y2="664.0" stroke="#3c3c3c" stroke-width="1.35" />
<line x1="596.0" y1="593.0" x2="596.0" y2="632.0" stroke="#3c3c3c" stroke-width="1.35" />
<line x1="687.0" y1="712.0" x2="687.0" y2="728.0" stroke="#3c3c3c" stroke-width="1.35" />
</g>
</svg>
</body></html>
